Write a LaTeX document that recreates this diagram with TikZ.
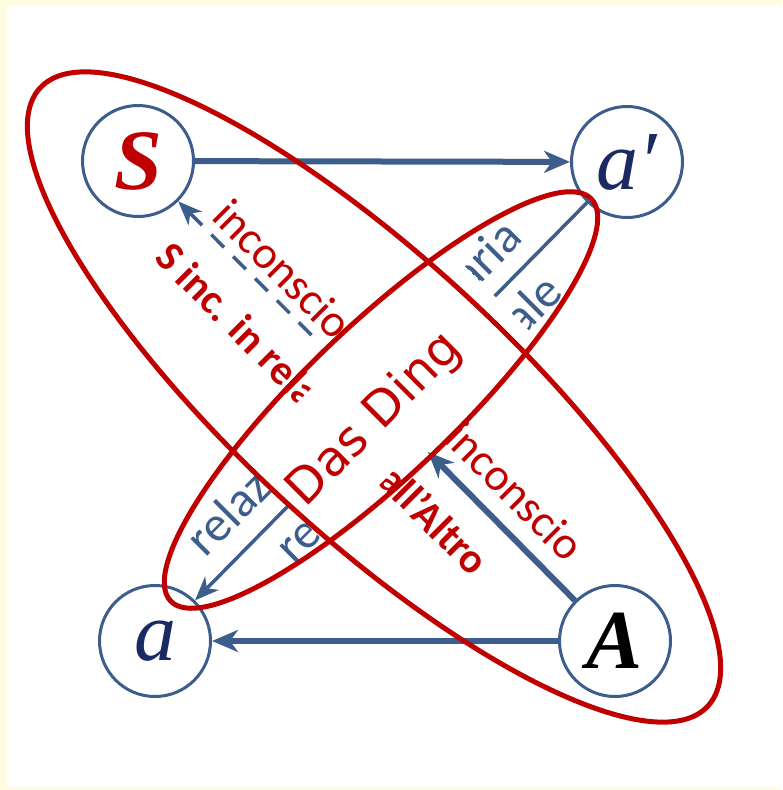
\documentclass[tikz,border=0pt]{standalone}
\usepackage{fontspec}
\usepackage{tikz}
\usetikzlibrary{arrows.meta}
\newfontfamily\labfont{Carlito}
\newfontfamily\dingfont{DejaVu Sans}
\newfontfamily\letfont{Liberation Serif}
\definecolor{schemablue}{RGB}{61,94,140}
\definecolor{schemared}{RGB}{192,0,0}
\definecolor{letterblue}{RGB}{28,42,100}
\definecolor{paper}{RGB}{255,253,225}

\begin{document}
\begin{tikzpicture}[x=1pt, y=-1pt,
    place/.style={draw=schemablue, circle, line width=3pt, minimum size=111pt, inner sep=0pt},
    link/.style={schemablue, line width=6pt, -{Stealth[length=26pt,width=22pt,inset=8pt]}},
    thinlink/.style={schemablue, line width=3.5pt, -{Stealth[length=24pt,width=19pt,inset=7pt]}},
    redlab/.style={schemared, font=\labfont\fontsize{46}{50}\selectfont, inner sep=0pt},
    boldlab/.style={schemared, font=\labfont\bfseries\fontsize{42}{46}\selectfont, inner sep=0pt},
    bluelab/.style={schemablue, font=\labfont\fontsize{50}{54}\selectfont, inner sep=0pt},
    ring/.style={schemared, line width=5pt}]
    % sheet
    \useasboundingbox (0,0) rectangle (782,790);
    \fill[paper] (0,0) rectangle (782,790);
    \fill[white] (7,5) rectangle (782,787);

    % schema L
    \node[place] (S) at (138,161) {\letfont\bfseries\itshape\fontsize{86}{86}\selectfont\color{schemared}S};
    \node[place] (ap) at (627,162) {\letfont\itshape\fontsize{84}{84}\selectfont\color{letterblue}a′};
    \node[place] (a) at (155,641) {\letfont\itshape\fontsize{84}{84}\selectfont\color{letterblue}a};
    \node[place] (A) at (615,641) {\letfont\bfseries\itshape\fontsize{84}{84}\selectfont A};
    \coordinate (tip) at (428,452);

    \draw[link] (S) -- (ap);
    \draw[link] (A) -- (a);
    \draw[link] (A) -- (tip);
    \draw[thinlink] (ap) -- (a);
    \draw[schemablue, line width=3.5pt, dash pattern=on 18pt off 13pt, shorten <=165pt,
          -{Stealth[length=24pt,width=19pt,inset=7pt]}] (tip) -- (S);

    % labels
    \node[redlab, rotate=-45] (inc1) at (283,269) {inconscio};
    \node[boldlab, rotate=-45] (sinc) at (323,408) {S inc. in relazione all’Altro};
    \node[redlab, rotate=-45] (inc2) at (515,491) {inconscio};
    \node[bluelab, rotate=45] (rimm) at (356,390) {relazione immaginaria};
    \node[bluelab, rotate=45] (rfus) at (418,418) {relazione fusionale};

    % Das Ding
    \fill[white, rotate around={45:(387,395)}] (239,337) rectangle (533,453);
    \draw[ring, rotate around={-42.8:(374,397)}] (374,397) ellipse [x radius=455pt, y radius=137pt];
    \draw[ring, rotate around={43.7:(381,400)}] (381,400) ellipse [x radius=291pt, y radius=75pt];
    \node[schemared, rotate=45, font=\dingfont\fontsize{49}{50}\selectfont] (ding) at (375,420) {Das Ding};
\end{tikzpicture}
\end{document}
